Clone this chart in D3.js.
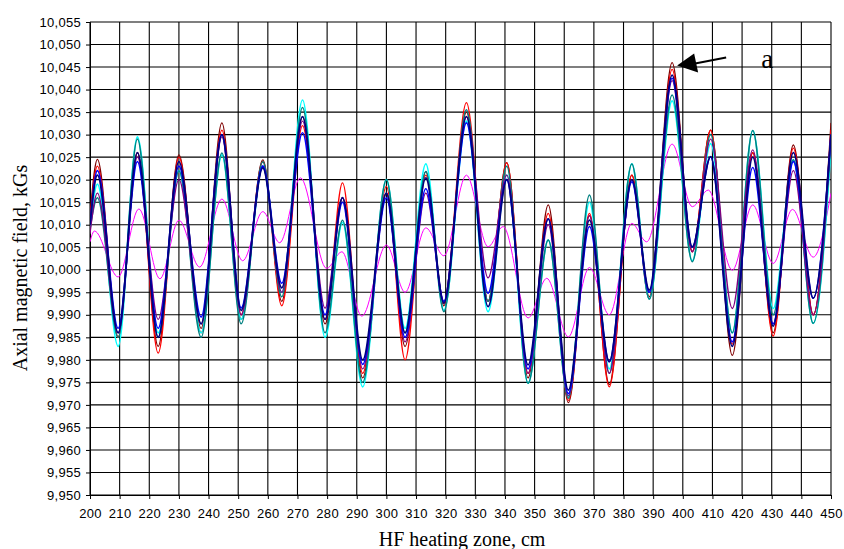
<!DOCTYPE html>
<html><head><meta charset="utf-8">
<script src="https://cdn.jsdelivr.net/npm/d3@7"></script>
<style>body{margin:0;background:#fff}svg{display:block}</style>
</head><body><svg id="c" width="844" height="549"></svg>
<script>
// x positions (cm) of the extrema of the main curves
const xMain = [200,202.5,209.5,216,223,230,237.5,244.5,251,258.3,264.7,271.7,279.3,285.2,292,300,306.3,313.3,319.4,327,334.3,340.6,347.8,354.6,361.4,368.5,375.2,382.8,388.7,396.4,403.2,409.4,416.7,423.6,430.5,437.3,444,450];
const maroon = [10.012,10.0245,9.985,10.026,9.983,10.0255,9.987,10.0326,9.989,10.0244,9.993,10.034,9.988,10.016,9.976,10.017,9.983,10.0218,9.992,10.035,9.993,10.0238,9.976,10.0144,9.9705,10.012,9.9745,10.021,9.994,10.046,10.004,10.031,9.981,10.026,9.986,10.0277,9.990,10.0326];
const red = [10.011,10.023,9.985,10.026,9.9815,10.025,9.986,10.031,9.990,10.024,9.992,10.032,9.989,10.0193,9.977,10.0185,9.980,10.021,9.9925,10.0371,9.993,10.0238,9.977,10.0125,9.971,10.0125,9.974,10.021,9.9935,10.0445,10.004,10.031,9.9835,10.026,9.9853,10.027,9.990,10.031];
const navy = [10.010,10.021,9.986,10.026,9.985,10.024,9.988,10.030,9.991,10.0226,9.996,10.034,9.989,10.016,9.980,10.017,9.986,10.0204,9.9926,10.034,9.9918,10.020,9.9789,10.0113,9.9733,10.011,9.9796,10.020,9.9955,10.0432,10.0051,10.0251,9.983,10.025,9.9875,10.026,9.9937,10.030];
const blue = [10.010,10.022,9.987,10.024,9.987,10.023,9.9895,10.030,9.9915,10.023,9.997,10.0304,9.990,10.015,9.979,10.016,9.985,10.018,9.993,10.0326,9.9948,10.020,9.978,10.0113,9.9725,10.0096,9.9796,10.0195,9.995,10.0425,10.005,10.0251,9.984,10.0227,9.988,10.024,9.9937,10.030];
const purple = [10.008,10.017,9.986,10.025,9.989,10.020,9.988,10.0295,9.990,10.023,9.995,10.033,9.9915,10.016,9.978,10.017,9.984,10.017,9.993,10.034,9.9982,10.021,9.977,10.010,9.972,10.012,9.977,10.020,9.995,10.042,10.004,10.029,9.9914,10.0266,9.988,10.022,9.990,10.030];
const teal = [10.009,10.016,9.985,10.029,9.985,10.022,9.985,10.0259,9.988,10.024,9.994,10.036,9.986,10.011,9.975,10.020,9.986,10.0218,9.9907,10.0355,9.993,10.023,9.9748,10.0066,9.9715,10.0166,9.977,10.0235,9.9935,10.0388,10.0018,10.030,9.986,10.0309,9.990,10.0244,9.9881,10.029];
const cyan = [10.009,10.019,9.983,10.0295,9.986,10.022,9.986,10.0255,9.989,10.023,9.995,10.0377,9.985,10.0105,9.974,10.020,9.987,10.0235,9.991,10.033,9.9907,10.021,9.9748,10.0066,9.972,10.015,9.978,10.0235,9.9935,10.0375,10.002,10.028,9.986,10.0309,9.9914,10.0244,9.9881,10.027];
// magenta curve has its own extrema positions
const xMagenta = [200,201.5,209.5,216.5,223.6,230,237,244.5,251.5,258.3,264,271,279.8,285,291.7,300,306.3,313.3,319.4,327,334.3,339.4,347.8,354.1,361.4,368.5,375.2,382.8,387.8,396.4,403.2,408.6,416.7,423.6,430.5,437,444,450];
const magenta = [10.0062,10.0086,9.9984,10.0135,9.998,10.011,10.0006,10.0157,10.002,10.0129,10.006,10.0204,10.0003,10.004,9.9897,10.0055,9.995,10.0093,10.0031,10.021,10.0051,10.0096,9.9893,9.9981,9.9851,10.0005,9.990,10.0103,10.0062,10.0279,10.014,10.0177,9.9999,10.0144,10.0014,10.0134,10.0028,10.017];

const xTicks = d3.range(200, 451, 10);
const yTicks = d3.range(0, 22).map(i => 9.95 + i * 0.005);
const xTitle = "HF heating zone, cm";
const yTitle = "Axial magnetic field, kGs";
const annotationLabel = "a";
const peakX = 396.4, peakY = 10.046;

const series = [
  {xs: xMagenta, ys: magenta, color: "#FF00FF", w: 1},
  {xs: xMain, ys: maroon, color: "#800000", w: 1.3},
  {xs: xMain, ys: red, color: "#FF0000", w: 1.3},
  {xs: xMain, ys: cyan, color: "#00FFFF", w: 1.6},
  {xs: xMain, ys: teal, color: "#008080", w: 1.5},
  {xs: xMain, ys: purple, color: "#800080", w: 1.3},
  {xs: xMain, ys: blue, color: "#0000FF", w: 1.6},
  {xs: xMain, ys: navy, color: "#000080", w: 1.8}
];

const svg = d3.select("#c");
const L = 90, R = 831, T = 22, B = 495;
const x = d3.scaleLinear().domain([200, 450]).range([L, R]);
const y = d3.scaleLinear().domain([9.95, 10.055]).range([B, T]);

// grid
const g = svg.append("g");
g.selectAll("line.v").data(xTicks).join("line")
  .attr("x1", d => x(d)).attr("x2", d => x(d)).attr("y1", T).attr("y2", B)
  .attr("stroke", "#000").attr("stroke-width", 1.1);
g.selectAll("line.h").data(yTicks).join("line")
  .attr("x1", L).attr("x2", R).attr("y1", d => y(d)).attr("y2", d => y(d))
  .attr("stroke", "#000").attr("stroke-width", 1.1);

// axes
const fmt = d => d3.format(".3f")(d).replace(".", ",");
const yAxis = d3.axisLeft(y).tickValues(yTicks).tickFormat(fmt).tickSize(4).tickPadding(5);
const xAxis = d3.axisBottom(x).tickValues(xTicks).tickFormat(d3.format("d")).tickSize(4).tickPadding(10);
const ya = svg.append("g").attr("transform", `translate(${L},0)`).call(yAxis);
const xa = svg.append("g").attr("transform", `translate(0,${B})`).call(xAxis);
[ya, xa].forEach(a => {
  a.selectAll("path").attr("stroke", "#000");
  a.selectAll("line").attr("stroke", "#000");
  a.selectAll("text").attr("font-family", "Liberation Sans, Arial, sans-serif").attr("font-size", 13)
    .attr("letter-spacing", "0.3px").attr("fill", "#000");
});

// curves
const clip = svg.append("clipPath").attr("id", "pc").append("rect")
  .attr("x", L).attr("y", T).attr("width", R - L).attr("height", B - T);
const line = d3.line().curve(d3.curveMonotoneX);
const lg = svg.append("g").attr("clip-path", "url(#pc)");
series.forEach(s => {
  lg.append("path")
    .attr("d", line(s.xs.map((xv, i) => [x(xv), y(s.ys[i])])))
    .attr("fill", "none").attr("stroke", s.color).attr("stroke-width", s.w);
});

// titles
svg.append("text").attr("x", 462).attr("y", 546).attr("text-anchor", "middle")
  .attr("font-family", "Liberation Serif, Times New Roman, serif").attr("font-size", 20).text(xTitle);
svg.append("text").attr("transform", `translate(27,268) rotate(-90)`).attr("text-anchor", "middle")
  .attr("font-family", "Liberation Serif, Times New Roman, serif").attr("font-size", 20).text(yTitle);

// annotation
const tx = x(peakX) + 5, ty = y(peakY) + 3;
svg.append("line").attr("x1", tx + 49).attr("y1", ty - 8).attr("x2", tx + 18).attr("y2", ty - 2)
  .attr("stroke", "#000").attr("stroke-width", 2);
svg.append("path").attr("d", `M${tx},${ty} L${tx + 17},${ty - 12} L${tx + 21},${ty + 7} Z`).attr("fill", "#000");
svg.append("text").attr("x", tx + 84).attr("y", ty + 2).attr("font-family", "Liberation Serif, Times New Roman, serif")
  .attr("font-size", 27).text(annotationLabel);
</script></body></html>
